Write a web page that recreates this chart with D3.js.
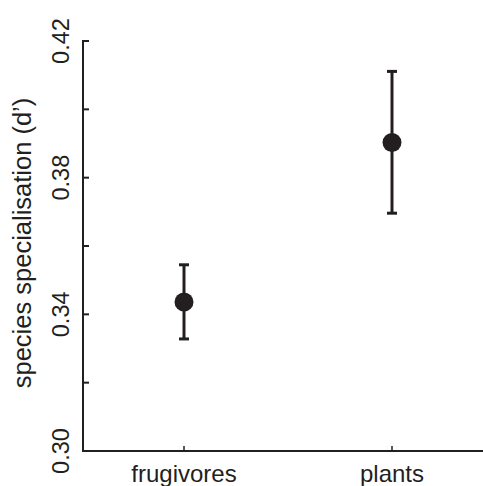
<!DOCTYPE html>
<html>
<head>
<meta charset="utf-8">
<script src="https://cdn.jsdelivr.net/npm/d3@7"></script>
<style>
  body { margin: 0; background: #fff; }
  svg { display: block; }
  text { font-family: "Liberation Sans", Arial, Helvetica, sans-serif; fill: #231f20; }
</style>
</head>
<body>
<svg width="483" height="486"></svg>
<script>
var groups = ['frugivores', 'plants'];
var means = [0.3436, 0.3903];
var upper = [0.3545, 0.4111];
var lower = [0.3328, 0.3696];
var yTicks = [0.30, 0.32, 0.34, 0.36, 0.38, 0.40, 0.42];
var yLabels = [0.30, 0.34, 0.38, 0.42];

var svg = d3.select('svg'),
    width = +svg.attr('width'),
    height = +svg.attr('height');

var ink = '#231f20';
var plotLeft = 83, plotTop = 41, plotBottom = 451;

var y = d3.scaleLinear().domain([0.30, 0.42]).range([plotBottom, plotTop]);
var x = d3.scalePoint().domain(groups).range([80, 496]).padding(0.5);

// y axis line + inward ticks
var yAxis = svg.append('g').attr('id', 'y-axis');
yAxis.append('line')
    .attr('x1', plotLeft).attr('x2', plotLeft)
    .attr('y1', y(0.42) - 1).attr('y2', y(0.30))
    .attr('stroke', ink).attr('stroke-width', 2);
yAxis.selectAll('line.tick')
    .data(yTicks)
    .enter().append('line')
    .attr('class', 'tick')
    .attr('x1', plotLeft).attr('x2', plotLeft + 6)
    .attr('y1', d => y(d)).attr('y2', d => y(d))
    .attr('stroke', ink).attr('stroke-width', 2);
yAxis.selectAll('text')
    .data(yLabels)
    .enter().append('text')
    .attr('transform', d => 'translate(69,' + y(d) + ') rotate(-90)')
    .attr('text-anchor', 'middle')
    .style('font-size', '23.5px')
    .text(d => d3.format('.2f')(d));

svg.append('text')
    .attr('transform', 'translate(31,' + 243 + ') rotate(-90)')
    .attr('text-anchor', 'middle')
    .style('font-size', '25.5px')
    .text('species specialisation (d\u2019)');

// x axis line + ticks
var xAxis = svg.append('g').attr('id', 'x-axis');
xAxis.append('line')
    .attr('x1', plotLeft - 1).attr('x2', width)
    .attr('y1', plotBottom).attr('y2', plotBottom)
    .attr('stroke', ink).attr('stroke-width', 2);
xAxis.selectAll('line.tick')
    .data(groups)
    .enter().append('line')
    .attr('class', 'tick')
    .attr('x1', d => x(d)).attr('x2', d => x(d))
    .attr('y1', plotBottom).attr('y2', plotBottom - 5)
    .attr('stroke', ink).attr('stroke-width', 1.5);
xAxis.selectAll('text')
    .data(groups)
    .enter().append('text')
    .attr('x', d => x(d))
    .attr('y', 482)
    .attr('text-anchor', 'middle')
    .style('font-size', '24px')
    .text(d => d);

// error bars and means
var pts = svg.append('g').attr('id', 'points')
    .selectAll('g')
    .data(groups)
    .enter().append('g');

pts.append('line')
    .attr('x1', d => x(d)).attr('x2', d => x(d))
    .attr('y1', (d, i) => y(upper[i])).attr('y2', (d, i) => y(lower[i]))
    .attr('stroke', ink).attr('stroke-width', 3);
pts.append('line')
    .attr('x1', d => x(d) - 5).attr('x2', d => x(d) + 5)
    .attr('y1', (d, i) => y(upper[i])).attr('y2', (d, i) => y(upper[i]))
    .attr('stroke', ink).attr('stroke-width', 3);
pts.append('line')
    .attr('x1', d => x(d) - 5).attr('x2', d => x(d) + 5)
    .attr('y1', (d, i) => y(lower[i])).attr('y2', (d, i) => y(lower[i]))
    .attr('stroke', ink).attr('stroke-width', 3);
pts.append('circle')
    .attr('cx', d => x(d))
    .attr('cy', (d, i) => y(means[i]))
    .attr('r', 9.5)
    .attr('fill', ink);
</script>
</body>
</html>
